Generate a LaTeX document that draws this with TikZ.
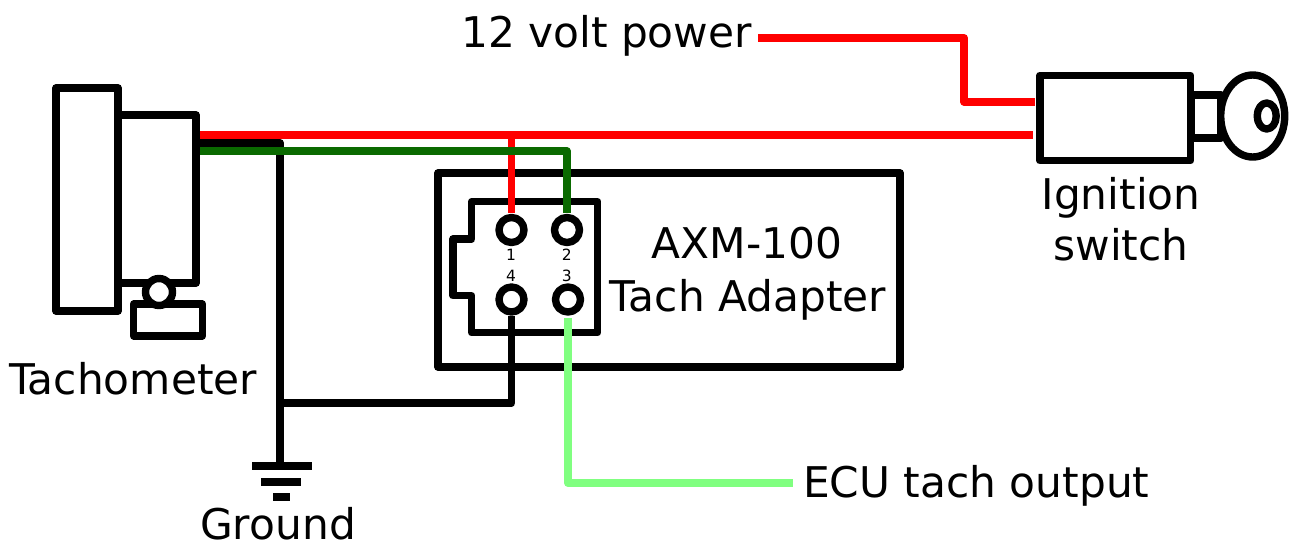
\documentclass[tikz,border=0pt]{standalone}
\usepackage{fontspec}
\setmainfont{DejaVu Sans}
\usetikzlibrary{shapes.geometric}
\definecolor{wred}{HTML}{FF0000}
\definecolor{wgreen}{HTML}{0A6A00}
\definecolor{wlight}{HTML}{80FF80}
\tikzset{
  outline/.style={draw=black,line width=7.4pt,line join=round,inner sep=0pt,fill=white},
  boxr/.style={outline,rectangle,minimum width=#1},
  pin/.style={outline,circle,minimum size=25pt},
  bar/.style={fill=black,inner sep=0pt,minimum height=8pt,minimum width=#1,rectangle},
  wire/.style={line width=7.8pt,line join=round,line cap=butt},
  lbl/.style={inner sep=0pt,font=\fontsize{42.3}{44}\selectfont,anchor=base},
  num/.style={inner sep=0pt,font=\fontsize{15.5}{16}\selectfont,anchor=center}
}
\begin{document}
\begin{tikzpicture}[x=1pt,y=-1pt]
\useasboundingbox (0,0) rectangle (1289,544);
% tachometer
\node[boxr=62pt,minimum height=223pt] (gauge) at (87,199.5) {};
\node[boxr=78pt,minimum height=168pt] (body) at (157,199) {};
\node[boxr=68.5pt,minimum height=32pt] (base) at (168,320) {};
\node[outline,circle,minimum size=27pt] (stud) at (159,292) {};
% adapter
\node[boxr=462pt,minimum height=194pt] (adapter) at (669,270) {};
\draw[outline] (471.7,201.7) -- (597.7,201.7) -- (597.7,332.7) -- (471.7,332.7) -- (471.7,295.7) -- (453,295.7) -- (453,239) -- (471.7,239) -- cycle;
\node[pin] (p1) at (511.5,230) {};
\node[pin] (p2) at (567,230) {};
\node[pin] (p4) at (511.5,299.5) {};
\node[pin] (p3) at (568,299.5) {};
\node[num] (n1) at (511,255) {1};
\node[num] (n2) at (566.7,255) {2};
\node[num] (n4) at (511,275.5) {4};
\node[num] (n3) at (566.7,275.5) {3};
% ignition switch
\node[boxr=30pt,minimum height=43pt] (shaft) at (1206,116.5) {};
\node[boxr=150.7pt,minimum height=85.4pt] (switch) at (1115.3,118) {};
\node[outline,ellipse,minimum width=64pt,minimum height=82pt] (key) at (1252.7,116) {};
\node[outline,ellipse,minimum width=19pt,minimum height=26pt] (hole) at (1266.7,116) {};
% ground symbol
\node[bar=60pt] (g1) at (282,466) {};
\node[bar=39.5pt] (g2) at (281.2,482) {};
\node[bar=17pt] (g3) at (281.5,497.3) {};
% free wire ends
\coordinate (tb) at (200,143);
\coordinate (tr) at (200,135);
\coordinate (tg) at (200,151);
\coordinate (sr) at (1033,135);
\coordinate (sp) at (1035,101.7);
\coordinate (pw) at (758,38);
\coordinate (ecu) at (793,483);
% wires
\draw[wire] (tb) -- (280,143) -- (280,462);
\draw[wire] (511.5,316) -- (511.5,403) -- (280,403);
\draw[wire,wred] (tr) -- (sr);
\draw[wire,wred] (511.5,135) -- (511.5,213);
\draw[wire,wred] (pw) -- (964,38) -- (964,101.7) -- (sp);
\draw[wire,wgreen] (tg) -- (566.7,151) -- (566.7,212.7);
\draw[wire,wlight] (568,318) -- (568,483) -- (ecu);
% labels
\node[lbl,anchor=base east] (power) at (752,47) {12 volt power};
\node[lbl] (ign1) at (1121,209) {Ignition};
\node[lbl] (ign2) at (1121,260) {switch};
\node[lbl] (axm1) at (747,258) {AXM-100};
\node[lbl] (axm2) at (748,311) {Tach Adapter};
\node[lbl] (tacho) at (133,394) {Tachometer};
\node[lbl] (gnd) at (278,539) {Ground};
\node[lbl,anchor=base west] (ecul) at (803,497) {ECU tach output};
\end{tikzpicture}
\end{document}
